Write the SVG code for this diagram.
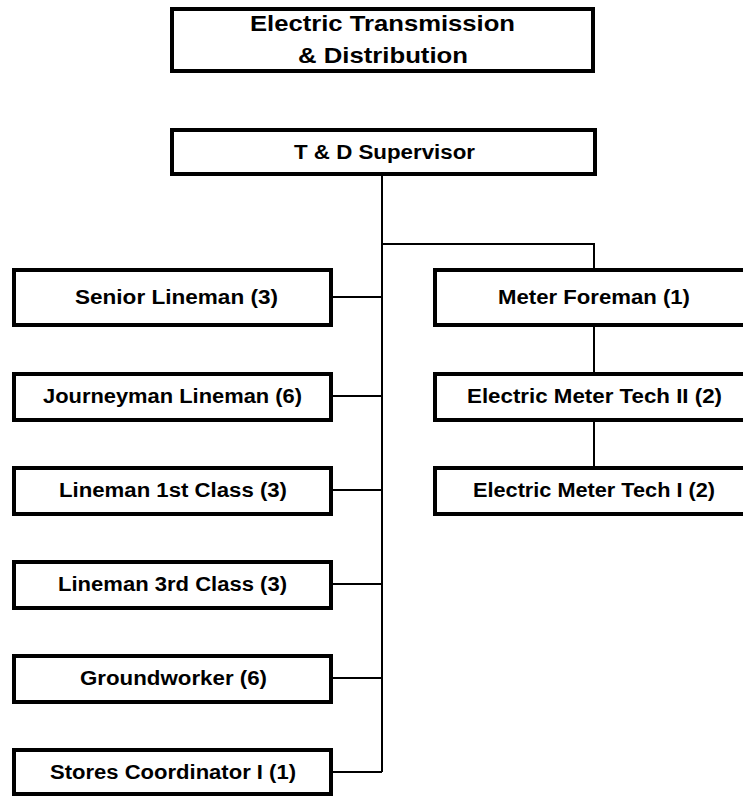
<svg xmlns="http://www.w3.org/2000/svg" width="743" height="796" viewBox="0 0 743 796">
<style>
.box{fill:#fff;stroke:#000;stroke-width:4}
.lbl{font-family:"Liberation Sans",Arial,sans-serif;font-weight:bold;font-size:19.5px;fill:#000}
.ttl{font-family:"Liberation Sans",Arial,sans-serif;font-weight:bold;font-size:22px;fill:#000}
.conn{stroke:#000;stroke-width:2;fill:none}
</style>
<rect width="743" height="796" fill="#fff"/>
<g id="connectors">
<path class="conn" d="M382 175V772"/>
<path class="conn" d="M382 244H594V268"/>
<path class="conn" d="M332 297H382"/>
<path class="conn" d="M332 396H382"/>
<path class="conn" d="M332 490H382"/>
<path class="conn" d="M332 584H382"/>
<path class="conn" d="M332 678H382"/>
<path class="conn" d="M332 772H382"/>
<path class="conn" d="M594 326V372"/>
<path class="conn" d="M594 420V466"/>
</g>
<g id="title">
<rect class="box" x="172" y="9" width="421" height="62"/>
<text class="ttl" x="250" y="31" textLength="265" lengthAdjust="spacingAndGlyphs">Electric Transmission</text>
<text class="ttl" x="298" y="63" textLength="170" lengthAdjust="spacingAndGlyphs">&amp; Distribution</text>
</g>
<g id="supervisor">
<rect class="box" x="172" y="130" width="423" height="44"/>
<text class="lbl" x="294" y="159" textLength="181" lengthAdjust="spacingAndGlyphs">T &amp; D Supervisor</text>
</g>
<g id="senior">
<rect class="box" x="14" y="270" width="317" height="55"/>
<text class="lbl" x="75" y="304" textLength="203" lengthAdjust="spacingAndGlyphs">Senior Lineman (3)</text>
</g>
<g id="journeyman">
<rect class="box" x="14" y="374" width="317" height="46"/>
<text class="lbl" x="43" y="403" textLength="259" lengthAdjust="spacingAndGlyphs">Journeyman Lineman (6)</text>
</g>
<g id="lineman1">
<rect class="box" x="14" y="468" width="317" height="46"/>
<text class="lbl" x="59" y="497" textLength="228" lengthAdjust="spacingAndGlyphs">Lineman 1st Class (3)</text>
</g>
<g id="lineman3">
<rect class="box" x="14" y="562" width="317" height="46"/>
<text class="lbl" x="58" y="591" textLength="229" lengthAdjust="spacingAndGlyphs">Lineman 3rd Class (3)</text>
</g>
<g id="groundworker">
<rect class="box" x="14" y="656" width="317" height="46"/>
<text class="lbl" x="80" y="685" textLength="187" lengthAdjust="spacingAndGlyphs">Groundworker (6)</text>
</g>
<g id="stores">
<rect class="box" x="14" y="750" width="317" height="44"/>
<text class="lbl" x="50" y="779" textLength="246" lengthAdjust="spacingAndGlyphs">Stores Coordinator I (1)</text>
</g>
<g id="meterforeman">
<rect class="box" x="435" y="270" width="320" height="55"/>
<text class="lbl" x="498" y="304" textLength="192" lengthAdjust="spacingAndGlyphs">Meter Foreman (1)</text>
</g>
<g id="techII">
<rect class="box" x="435" y="374" width="320" height="46"/>
<text class="lbl" x="467" y="403" textLength="255" lengthAdjust="spacingAndGlyphs">Electric Meter Tech II (2)</text>
</g>
<g id="techI">
<rect class="box" x="435" y="468" width="320" height="46"/>
<text class="lbl" x="473" y="497" textLength="242" lengthAdjust="spacingAndGlyphs">Electric Meter Tech I (2)</text>
</g>
</svg>
